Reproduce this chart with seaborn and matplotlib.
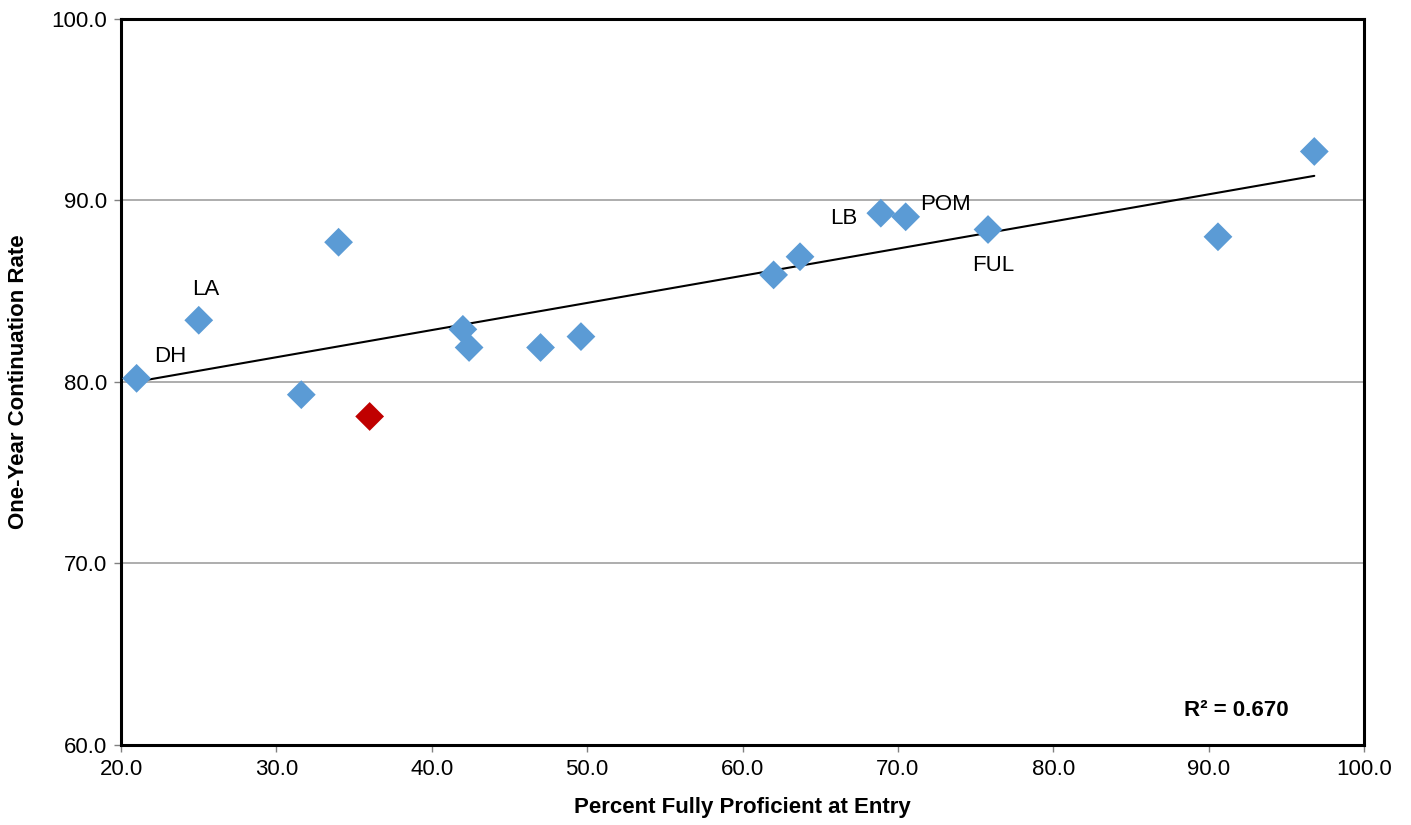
import numpy as np
import pandas as pd
import seaborn as sns
import matplotlib.pyplot as plt

# values
proficient = [21.0, 25.0, 31.6, 34.0, 36.0, 42.0, 42.4, 47.0, 49.6,
              62.0, 63.7, 68.9, 70.5, 75.8, 90.6, 96.8]
continuation = [80.2, 83.4, 79.3, 87.7, 78.1, 82.9, 81.9, 81.9, 82.5,
                85.9, 86.9, 89.3, 89.1, 88.4, 88.0, 92.7]
highlight = [False, False, False, False, True, False, False, False, False,
             False, False, False, False, False, False, False]
campus = ["DH", "LA", "", "", "", "", "", "", "",
          "", "", "LB", "POM", "FUL", "", ""]

df = pd.DataFrame({"x": proficient, "y": continuation,
                   "hl": highlight, "name": campus})

sns.set_theme(style="white")
plt.rcParams["font.family"] = ["Liberation Sans", "DejaVu Sans"]
plt.rcParams["text.color"] = "black"
plt.rcParams["xtick.color"] = "black"
plt.rcParams["ytick.color"] = "black"
plt.rcParams["axes.labelcolor"] = "black"

fig = plt.figure(figsize=(14.11, 8.25), dpi=100)
ax = fig.add_axes([0.0858, 0.097, 0.8809, 0.880])

# trend line through all points
sns.regplot(data=df, x="x", y="y", scatter=False, ci=None, ax=ax,
            line_kws={"color": "black", "lw": 1.5}, truncate=True)

sns.scatterplot(data=df, x="x", y="y", hue="hl", palette={False: "#5b9bd5", True: "#c00000"},
                marker="D", s=215, edgecolor="none", legend=False, ax=ax, zorder=3)

# label offsets in points (label centre relative to the point)
offsets = {"DH": (24, 16), "LA": (5, 22), "LB": (-27, -4), "POM": (29, 9), "FUL": (4, -26)}
for _, r in df.iterrows():
    if r["name"]:
        ax.annotate(r["name"], (r["x"], r["y"]), xytext=offsets[r["name"]],
                    textcoords="offset points", ha="center", va="center", fontsize=16)

ax.text(0.939, 0.048, "R² = 0.670", transform=ax.transAxes, ha="right", va="center",
        fontsize=16, fontweight="bold")

ax.set_xlim(20, 100)
ax.set_ylim(60, 100)
ax.set_xticks(np.arange(20, 101, 10))
ax.set_yticks(np.arange(60, 101, 10))
ax.set_xticklabels([f"{v:.1f}" for v in np.arange(20, 101, 10)], fontsize=16)
ax.set_yticklabels([f"{v:.1f}" for v in np.arange(60, 101, 10)], fontsize=16)
ax.yaxis.grid(True, color="#a0a0a0", lw=1.2)
ax.xaxis.grid(False)
ax.set_axisbelow(True)
ax.tick_params(axis="both", direction="out", length=5, width=1, color="#808080",
               bottom=True, left=True, pad=5)
for sp in ax.spines.values():
    sp.set_color("black")
    sp.set_linewidth(2.2)

ax.set_xlabel("Percent Fully Proficient at Entry", fontsize=16, fontweight="bold", labelpad=12)
ax.set_ylabel("One-Year Continuation Rate", fontsize=16, fontweight="bold", labelpad=16)

fig.savefig("out.png", dpi=100)
